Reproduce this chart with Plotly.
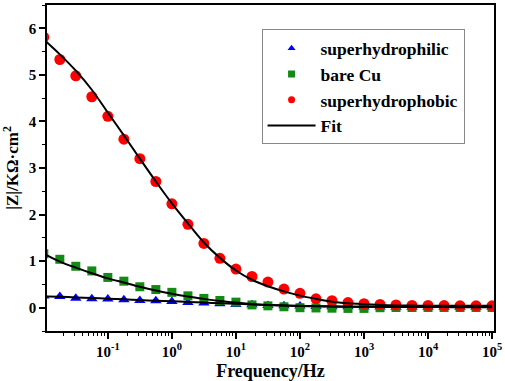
import plotly.graph_objects as go

# Frequencies (Hz), quarter-decade steps from 0.01 Hz to 100 kHz
freq = [0.01, 0.0178, 0.0316, 0.0562, 0.1, 0.178, 0.316, 0.562, 1, 1.78, 3.16, 5.62,
        10, 17.8, 31.6, 56.2, 100, 178, 316, 562, 1000, 1780, 3160, 5620,
        1e4, 1.78e4, 3.16e4, 5.62e4, 1e5]

superhydrophilic = [0.25, 0.24, 0.205, 0.19, 0.185, 0.17, 0.155, 0.15, 0.135,
                    0.11, 0.10, 0.085, 0.07, 0.065, 0.05, 0.04, 0.035,
                    0.025, 0.02, 0.02, 0.015, 0.015, 0.01, 0.01, 0.01, 0.01, 0.01, 0.01, 0.01]
bare_cu = [1.16, 1.04, 0.89, 0.79, 0.65, 0.57, 0.45, 0.39, 0.33,
           0.255, 0.20, 0.155, 0.12, 0.06, 0.04, 0.02, 0.0,
           -0.005, -0.01, -0.015, -0.015, 0.0, 0.005, 0.005, 0.005, 0.005, 0.005, 0.005, 0.005]
superhydrophobic = [5.81, 5.33, 4.98, 4.53, 4.11, 3.62, 3.20, 2.71, 2.23,
                    1.79, 1.38, 1.06, 0.83, 0.67, 0.55, 0.40, 0.31,
                    0.19, 0.15, 0.11, 0.085, 0.07, 0.06, 0.05, 0.05, 0.045, 0.04, 0.04, 0.04]

fit_superhydrophilic = [0.245, 0.235, 0.22, 0.21, 0.195, 0.18, 0.165, 0.15, 0.14,
                        0.125, 0.11, 0.095, 0.085, 0.07, 0.06, 0.05, 0.04,
                        0.035, 0.03, 0.025, 0.02, 0.018, 0.016, 0.015, 0.014, 0.013, 0.012, 0.011, 0.01]
fit_bare_cu = [1.16, 0.99, 0.86, 0.74, 0.63, 0.54, 0.45, 0.37, 0.30,
               0.24, 0.19, 0.145, 0.11, 0.08, 0.06, 0.045, 0.035,
               0.03, 0.025, 0.022, 0.02, 0.02, 0.02, 0.02, 0.02, 0.02, 0.02, 0.02, 0.02]
fit_superhydrophobic = [5.76, 5.44, 5.09, 4.68, 4.19, 3.70, 3.20, 2.71, 2.24,
                        1.81, 1.40, 1.07, 0.80, 0.60, 0.46, 0.35, 0.26,
                        0.19, 0.13, 0.095, 0.075, 0.06, 0.05, 0.045, 0.04, 0.04, 0.04, 0.04, 0.04]

x_tickvals = [0.1, 1, 10, 100, 1000, 1e4, 1e5]
x_ticktext = ["10<sup>-1</sup>", "10<sup>0</sup>", "10<sup>1</sup>", "10<sup>2</sup>",
              "10<sup>3</sup>", "10<sup>4</sup>", "10<sup>5</sup>"]
y_tickvals = [0, 1, 2, 3, 4, 5, 6]

FONT = "Liberation Serif, Times New Roman, Times, serif"
fig = go.Figure()

series = [
    ("superhydrophilic", superhydrophilic, "#0000FF", "triangle-up", 10),
    ("bare Cu", bare_cu, "#138A13", "square", 9),
    ("superhydrophobic", superhydrophobic, "#FF0000", "circle", 11),
]
for name, vals, color, sym, size in series:
    fig.add_trace(go.Scatter(x=freq, y=vals, mode="markers", showlegend=False,
                             marker=dict(color=color, symbol=sym, size=size, line=dict(width=0))))

for fv in [fit_superhydrophilic, fit_bare_cu, fit_superhydrophobic]:
    fig.add_trace(go.Scatter(x=freq, y=fv, mode="lines", showlegend=False,
                             line=dict(color="black", width=2, shape="spline", smoothing=0.8)))

# legend entries
for name, vals, color, sym, size in series:
    fig.add_trace(go.Scatter(x=[None], y=[None], mode="markers", name=name,
                             marker=dict(color=color, symbol=sym, size=7)))
fig.add_trace(go.Scatter(x=[None], y=[None], mode="lines", name="Fit",
                         line=dict(color="black", width=2)))

fig.update_layout(
    width=505, height=381,
    margin=dict(l=47, r=8, t=3, b=49),
    paper_bgcolor="white", plot_bgcolor="white",
    font=dict(family=FONT, color="black"),
    legend=dict(x=0.48, y=0.925, xanchor="left", yanchor="top",
                bordercolor="#888888", borderwidth=1, bgcolor="white",
                font=dict(family=FONT, size=17.5, color="black", weight="bold"),
                tracegroupgap=0, itemwidth=48),
    xaxis=dict(type="log", range=[-1.95, 5.03],
               tickvals=x_tickvals, ticktext=x_ticktext,
               ticks="outside", ticklen=6, tickwidth=1.5, tickcolor="black",
               showline=True, linewidth=1.5, linecolor="black", mirror=True,
               showgrid=False, zeroline=False, ticklabeloverflow="allow",
               tickfont=dict(family=FONT, size=15, weight="bold"),
               minor=dict(ticks="outside", ticklen=3, tickwidth=1, tickcolor="black",
                          dtick="D1", showgrid=False),
               title=dict(text="Frequency/Hz", standoff=6,
                          font=dict(family=FONT, size=18, weight="bold"))),
    yaxis=dict(range=[-0.5, 6.5],
               tickvals=y_tickvals,
               ticks="outside", ticklen=6, tickwidth=1.5, tickcolor="black",
               showline=True, linewidth=1.5, linecolor="black", mirror=True,
               showgrid=False, zeroline=False,
               tickfont=dict(family=FONT, size=15, weight="bold"),
               minor=dict(ticks="outside", ticklen=3, tickwidth=1, tickcolor="black",
                          dtick=0.5, showgrid=False),
               title=dict(text="|Z|/KΩ·cm<sup>2</sup>", standoff=6,
                          font=dict(family=FONT, size=17, weight="bold"))),
)

fig.write_html("out.html", post_script="document.body.style.margin='0px';",
               config={"displayModeBar": False})
